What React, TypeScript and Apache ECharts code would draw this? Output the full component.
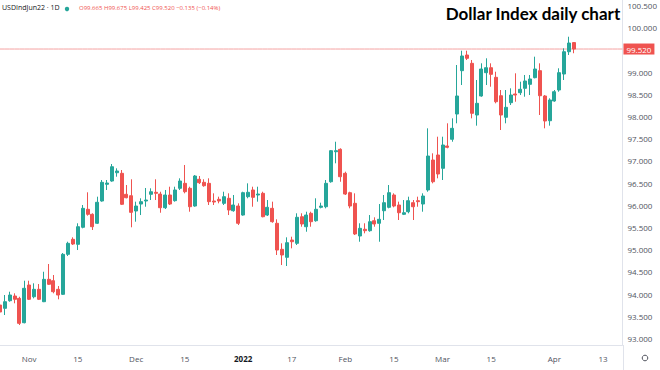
import React, { useEffect, useRef } from "react";
import * as echarts from "echarts";

const dates = [
  "2021-10-22","2021-10-25","2021-10-26","2021-10-27","2021-10-28","2021-10-29",
  "2021-11-01","2021-11-02","2021-11-03","2021-11-04","2021-11-05",
  "2021-11-08","2021-11-09","2021-11-10","2021-11-11","2021-11-12",
  "2021-11-15","2021-11-16","2021-11-17","2021-11-18","2021-11-19",
  "2021-11-22","2021-11-23","2021-11-24","2021-11-25","2021-11-26",
  "2021-11-29","2021-11-30",
  "2021-12-01","2021-12-02","2021-12-03",
  "2021-12-06","2021-12-07","2021-12-08","2021-12-09","2021-12-10",
  "2021-12-13","2021-12-14","2021-12-15","2021-12-16","2021-12-17",
  "2021-12-20","2021-12-21","2021-12-22","2021-12-23",
  "2021-12-27","2021-12-28","2021-12-29","2021-12-30","2021-12-31",
  "2022-01-03","2022-01-04","2022-01-05","2022-01-06","2022-01-07",
  "2022-01-10","2022-01-11","2022-01-12","2022-01-13","2022-01-14",
  "2022-01-17","2022-01-18","2022-01-19","2022-01-20","2022-01-21",
  "2022-01-24","2022-01-25","2022-01-26","2022-01-27","2022-01-28",
  "2022-01-31",
  "2022-02-01","2022-02-02","2022-02-03","2022-02-04",
  "2022-02-07","2022-02-08","2022-02-09","2022-02-10","2022-02-11",
  "2022-02-14","2022-02-15","2022-02-16","2022-02-17","2022-02-18",
  "2022-02-21","2022-02-22","2022-02-23","2022-02-24","2022-02-25",
  "2022-02-28",
  "2022-03-01","2022-03-02","2022-03-03","2022-03-04",
  "2022-03-07","2022-03-08","2022-03-09","2022-03-10","2022-03-11",
  "2022-03-14","2022-03-15","2022-03-16","2022-03-17","2022-03-18",
  "2022-03-21","2022-03-22","2022-03-23","2022-03-24","2022-03-25",
  "2022-03-28","2022-03-29","2022-03-30","2022-03-31",
  "2022-04-01","2022-04-04","2022-04-05","2022-04-06","2022-04-07",
];

// empty future slots to the right of the last candle
const futureDates = [
  "2022-04-08","2022-04-09","2022-04-10","2022-04-11","2022-04-12",
  "2022-04-13","2022-04-14","2022-04-15","2022-04-16","2022-04-17",
];

const opens = [
  93.754,93.680,93.851,93.957,93.905,93.356,94.205,93.941,94.108,93.829,
  94.333,94.302,94.108,93.995,94.896,95.234,95.121,95.505,95.910,95.797,
  95.595,96.097,96.473,96.547,96.734,96.721,96.248,96.216,95.872,96.029,
  96.097,96.248,96.293,96.254,95.946,96.232,96.104,96.383,96.495,96.383,
  95.984,96.586,96.518,96.495,96.097,96.135,96.045,96.158,95.878,95.984,
  95.781,96.194,96.345,96.232,96.270,95.781,95.932,95.595,95.009,94.829,
  95.218,95.144,95.743,95.518,95.820,95.653,95.955,95.968,96.531,97.207,
  97.261,96.721,96.284,96.045,95.309,95.460,95.428,95.653,95.595,95.878,
  95.955,96.232,96.007,95.797,95.856,96.059,96.104,96.029,96.345,97.020,
  97.133,96.833,97.336,97.487,98.056,99.032,99.385,99.198,98.034,98.462,
  98.987,99.099,98.883,98.468,97.982,98.311,98.507,98.536,98.635,98.725,
  98.874,99.032,98.462,97.905,98.349,98.597,98.957,99.459,99.665,
];
const highs = [
  93.867,93.980,94.054,94.018,93.941,94.302,94.302,94.243,94.227,94.504,
  94.678,94.430,94.182,94.926,95.180,95.279,95.595,96.007,96.293,95.820,
  96.194,96.570,96.570,96.930,96.833,96.795,96.457,96.586,96.082,96.158,
  96.390,96.383,96.586,96.306,96.345,96.419,96.419,96.608,96.908,96.419,
  96.682,96.660,96.586,96.608,96.270,96.194,96.306,96.270,96.232,96.045,
  96.306,96.495,96.419,96.419,96.306,96.119,96.082,95.685,95.144,95.279,
  95.293,95.820,95.820,95.856,95.856,96.158,96.059,96.570,97.245,97.432,
  97.284,96.757,96.306,96.270,95.595,95.595,95.781,95.730,96.029,96.232,
  96.457,96.270,96.082,96.119,96.194,96.119,96.194,96.270,97.734,97.171,
  97.545,97.545,97.847,97.959,99.160,99.482,99.482,99.273,98.822,99.198,
  99.311,99.198,99.009,98.597,98.597,98.635,98.973,98.784,98.935,98.935,
  99.347,99.198,98.484,98.410,98.597,99.086,99.536,99.797,99.675,
];
const lows = [
  93.462,93.529,93.829,93.793,93.304,93.342,93.867,93.905,93.867,93.820,
  94.205,94.018,93.883,93.980,94.858,95.106,94.993,95.482,95.766,95.444,
  95.579,96.082,96.345,96.531,96.644,96.007,96.158,95.505,95.631,95.781,
  95.968,96.119,96.119,95.833,95.917,96.007,96.082,96.345,96.270,95.856,
  95.968,96.480,96.419,96.007,96.007,96.045,96.007,95.781,95.856,95.556,
  95.766,96.158,95.968,96.082,95.730,95.759,95.608,94.881,94.655,94.633,
  95.031,95.106,95.518,95.405,95.518,95.631,95.932,95.932,96.509,96.946,
  96.531,96.232,95.932,95.331,95.180,95.369,95.405,95.518,95.180,95.669,
  95.932,95.955,95.669,95.781,95.820,95.669,95.968,95.856,96.306,96.495,
  96.608,96.570,97.284,97.432,97.847,98.709,99.273,97.959,97.794,98.446,
  98.709,98.671,98.297,97.696,97.847,98.259,98.333,98.484,98.446,98.484,
  98.860,98.034,97.734,97.794,98.333,98.558,98.822,99.385,99.425,
];
const closes = [
  93.597,93.829,93.980,93.883,93.342,94.131,93.883,94.108,93.883,94.333,
  94.221,94.054,93.980,94.896,95.144,95.128,95.518,95.932,95.797,95.518,
  96.068,96.518,96.502,96.869,96.773,96.023,96.171,95.842,95.984,96.082,
  96.119,96.306,96.270,95.946,96.232,96.029,96.345,96.547,96.306,95.968,
  96.660,96.509,96.441,96.082,96.074,96.097,96.194,95.894,96.007,95.595,
  96.284,96.293,96.180,96.254,95.743,95.955,95.631,94.993,94.881,95.158,
  95.180,95.730,95.579,95.781,95.631,95.910,95.984,96.495,97.230,97.230,
  96.644,96.254,95.984,95.354,95.482,95.428,95.631,95.579,95.685,96.059,
  96.284,95.984,95.833,95.833,96.104,95.968,96.082,96.209,97.110,96.531,
  96.705,97.358,97.306,97.734,98.462,99.363,99.311,98.072,98.297,99.070,
  99.099,98.950,98.333,98.034,98.207,98.484,98.484,98.613,98.800,98.845,
  99.070,98.468,97.899,98.372,98.558,98.987,99.459,99.655,99.520,
];

const yTicks = [93, 93.5, 94, 94.5, 95, 95.5, 96, 96.5, 97, 97.5, 98, 98.5, 99, 99.5, 100, 100.5];

const xTickDates = [
  "2021-11-01","2021-11-15","2021-12-01","2021-12-15","2022-01-03","2022-01-17",
  "2022-02-01","2022-02-15","2022-03-01","2022-03-15","2022-04-01","2022-04-13",
];
const xTickLabels = ["Nov","15","Dec","15","2022","17","Feb","15","Mar","15","Apr","13"];

const symbolName = "USDIndJun22 · 1D";
const titleText = "Dollar Index daily chart";

const UP = "#26a69a";
const DOWN = "#ef5350";
const FONT = "'Open Sans', 'Noto Sans', sans-serif";

export default function App() {
  const ref = useRef<HTMLDivElement>(null);

  useEffect(() => {
    document.body.style.margin = "0";
    const chart = echarts.init(ref.current!, null, { renderer: "svg" });

    const categories = [...dates, ...futureDates];
    const tickMap: Record<string, string> = {};
    xTickDates.forEach((d, i) => (tickMap[d] = xTickLabels[i]));

    const n = closes.length;
    const lastO = opens[n - 1];
    const lastH = highs[n - 1];
    const lastL = lows[n - 1];
    const lastC = closes[n - 1];
    const chg = lastC - closes[n - 2];
    const pct = (chg / closes[n - 2]) * 100;
    const sign = chg < 0 ? "\u2212" : "+";
    const header =
      `O${lastO.toFixed(3)} H${lastH.toFixed(3)} L${lastL.toFixed(3)} C${lastC.toFixed(3)} ` +
      `${sign}${Math.abs(chg).toFixed(3)} (${sign}${Math.abs(pct).toFixed(2)}%)`;

    const ohlc = dates.map((_, i) => [opens[i], closes[i], lows[i], highs[i]]);
    // horizontal last-price line across the whole time scale
    const priceLine = categories.map(() => lastC);

    chart.setOption({
      animation: false,
      backgroundColor: "#ffffff",
      grid: { left: 0, right: 37, top: 0, bottom: 25, containLabel: false },
      xAxis: {
        type: "category",
        data: categories,
        boundaryGap: false,
        axisLine: { show: true, lineStyle: { color: "#e0e3eb" } },
        axisTick: { show: false },
        splitLine: { show: false },
        axisLabel: {
          interval: (_i: number, v: string) => tickMap[v] !== undefined,
          formatter: (v: string) => (tickMap[v] === "2022" ? "{b|2022}" : tickMap[v] || ""),
          color: "#50535e",
          fontSize: 8,
          fontFamily: FONT,
          margin: 9,
          rich: { b: { fontWeight: "bold", color: "#131722", fontSize: 8, fontFamily: FONT } },
        },
      },
      yAxis: {
        type: "value",
        position: "right",
        min: 92.854,
        max: 100.624,
        axisLine: { show: true, lineStyle: { color: "#e0e3eb" } },
        axisTick: { show: false },
        splitLine: { show: false },
        axisLabel: {
          customValues: yTicks,
          formatter: (v: number) => v.toFixed(3),
          color: "#50535e",
          fontSize: 8,
          fontFamily: FONT,
          margin: 5,
        },
      },
      series: [
        {
          type: "line",
          data: priceLine,
          symbol: "none",
          silent: true,
          z: 1,
          clip: false,
          lineStyle: { color: "#f5a3a2", width: 1 },
          itemStyle: { color: "#f5a3a2" },
          emphasis: { disabled: true },
          endLabel: {
            show: true,
            distance: 1,
            formatter: () => lastC.toFixed(3),
            backgroundColor: DOWN,
            color: "#ffffff",
            fontSize: 8,
            fontFamily: FONT,
            padding: [2, 3, 1, 3],
          },
        },
        {
          type: "candlestick",
          data: ohlc,
          barWidth: 3.5,
          z: 2,
          itemStyle: {
            color: UP,
            color0: DOWN,
            borderColor: UP,
            borderColor0: DOWN,
            borderWidth: 1,
          },
        },
      ],
      graphic: [
        {
          type: "text",
          left: 2,
          top: 4,
          style: { text: symbolName, fill: "#131722", font: `7px ${FONT}` },
        },
        {
          type: "circle",
          shape: { cx: 67, cy: 9, r: 2.2 },
          style: { fill: UP },
        },
        {
          type: "text",
          left: 79,
          top: 5,
          style: { text: header, fill: DOWN, font: `6px ${FONT}` },
        },
        {
          type: "text",
          right: 39,
          top: 5,
          style: { text: titleText, fill: "#000000", font: `bold 17px Lato, 'Open Sans', sans-serif` },
        },
        {
          type: "line",
          shape: { x1: 623.5, y1: 345, x2: 623.5, y2: 370 },
          style: { stroke: "#e0e3eb", lineWidth: 1 },
        },
        {
          type: "circle",
          shape: { cx: 645, cy: 358, r: 2.8 },
          style: { fill: "none", stroke: "#50535e", lineWidth: 1 },
        },
      ],
    });

    return () => chart.dispose();
  }, []);

  return (
    <div
      ref={ref}
      style={{ position: "absolute", left: 0, top: 0, width: 660, height: 370 }}
    />
  );
}
